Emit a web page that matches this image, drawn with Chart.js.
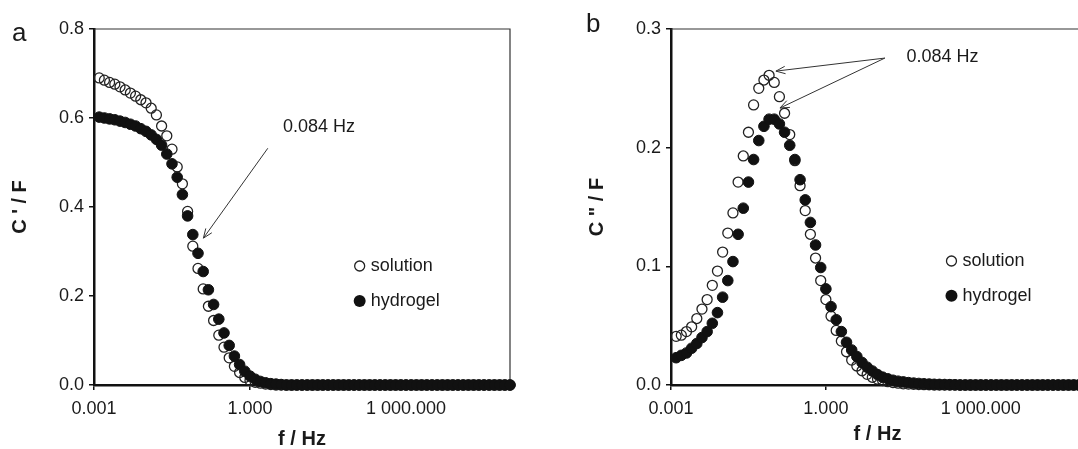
<!DOCTYPE html>
<html>
<head>
<meta charset="utf-8">
<script src="https://cdn.jsdelivr.net/npm/chart.js@4.4.1/dist/chart.umd.min.js"></script>
<style>
  html, body { margin: 0; padding: 0; background: #fff; overflow: hidden; width: 1078px; height: 449px; }
  canvas { position: absolute; top: 0; }
  #chartA { left: 0; }
  #chartB { left: 577px; }
</style>
</head>
<body>
<canvas id="chartA" width="540" height="449"></canvas>
<canvas id="chartB" width="537" height="449"></canvas>
<script>
// frequencies, 10 points per decade
const freqHz = [
  1.259e-3, 1.585e-3, 1.995e-3, 2.512e-3, 3.162e-3, 3.981e-3, 5.012e-3, 6.310e-3, 7.943e-3, 1e-2,
  1.259e-2, 1.585e-2, 1.995e-2, 2.512e-2, 3.162e-2, 3.981e-2, 5.012e-2, 6.310e-2, 7.943e-2, 1e-1,
  1.259e-1, 1.585e-1, 1.995e-1, 2.512e-1, 3.162e-1, 3.981e-1, 5.012e-1, 6.310e-1, 7.943e-1, 1,
  1.259, 1.585, 1.995, 2.512, 3.162, 3.981, 5.012, 6.310, 7.943, 10,
  12.59, 15.85, 19.95, 25.12, 31.62, 39.81, 50.12, 63.10, 79.43, 100,
  125.9, 158.5, 199.5, 251.2, 316.2, 398.1, 501.2, 631.0, 794.3, 1000,
  1259, 1585, 1995, 2512, 3162, 3981, 5012, 6310, 7943, 1e4,
  12590, 15850, 19950, 25120, 31620, 39810, 50120, 63100, 79430, 1e5
];

// panel a: C' (F)
const cReSolution = [
  0.690, 0.685, 0.680, 0.676, 0.670, 0.663, 0.656, 0.649, 0.641, 0.634,
  0.622, 0.607, 0.582, 0.560, 0.530, 0.490, 0.452, 0.390, 0.312, 0.262,
  0.216, 0.177, 0.145, 0.112, 0.085, 0.061, 0.042, 0.028, 0.017, 0.010,
  0.006, 0.004, 0.002, 0.001, 0, 0, 0, 0, 0, 0,
  0, 0, 0, 0, 0, 0, 0, 0, 0, 0,
  0, 0, 0, 0, 0, 0, 0, 0, 0, 0,
  0, 0, 0, 0, 0, 0, 0, 0, 0, 0,
  0, 0, 0, 0, 0, 0, 0, 0, 0, 0
];
const cReHydrogel = [
  0.602, 0.600, 0.598, 0.596, 0.593, 0.590, 0.586, 0.582, 0.576, 0.570,
  0.562, 0.552, 0.539, 0.519, 0.497, 0.467, 0.428, 0.380, 0.338, 0.296,
  0.255, 0.214, 0.181, 0.148, 0.117, 0.089, 0.065, 0.046, 0.031, 0.020,
  0.013, 0.008, 0.005, 0.003, 0.002, 0.001, 0, 0, 0, 0,
  0, 0, 0, 0, 0, 0, 0, 0, 0, 0,
  0, 0, 0, 0, 0, 0, 0, 0, 0, 0,
  0, 0, 0, 0, 0, 0, 0, 0, 0, 0,
  0, 0, 0, 0, 0, 0, 0, 0, 0, 0
];

// panel b: C'' (F)
const cImSolution = [
  0.041, 0.042, 0.045, 0.049, 0.056, 0.064, 0.072, 0.084, 0.096, 0.112,
  0.128, 0.145, 0.171, 0.193, 0.213, 0.236, 0.250, 0.257, 0.261, 0.255,
  0.243, 0.229, 0.211, 0.189, 0.168, 0.147, 0.127, 0.107, 0.088, 0.072,
  0.058, 0.046, 0.037, 0.028, 0.021, 0.016, 0.012, 0.009, 0.0065, 0.005,
  0.0037, 0.0028, 0.002, 0.0015, 0.001, 0.0008, 0.0006, 0.0004, 0.0003, 0.0002,
  0, 0, 0, 0, 0, 0, 0, 0, 0, 0,
  0, 0, 0, 0, 0, 0, 0, 0, 0, 0,
  0, 0, 0, 0, 0, 0, 0, 0, 0, 0
];
const cImHydrogel = [
  0.023, 0.025, 0.027, 0.031, 0.035, 0.040, 0.045, 0.052, 0.061, 0.074,
  0.088, 0.104, 0.127, 0.149, 0.171, 0.190, 0.206, 0.218, 0.224, 0.224,
  0.220, 0.213, 0.202, 0.190, 0.173, 0.156, 0.137, 0.118, 0.099, 0.081,
  0.066, 0.055, 0.045, 0.036, 0.0295, 0.024, 0.019, 0.015, 0.0118, 0.0088,
  0.0066, 0.0052, 0.004, 0.0032, 0.0026, 0.002, 0.0016, 0.0013, 0.001, 0.0008,
  0.0006, 0.0005, 0.0004, 0.0003, 0.0002, 0, 0, 0, 0, 0,
  0, 0, 0, 0, 0, 0, 0, 0, 0, 0,
  0, 0, 0, 0, 0, 0, 0, 0, 0, 0
];

const xTickValues = [0.001, 1, 1000];
const xTickLabels = ["0.001", "1.000", "1 000.000"];
const yTicksA = [0, 0.2, 0.4, 0.6, 0.8];
const yTicksB = [0, 0.1, 0.2, 0.3];

const FONT = '"Liberation Sans", Arial, sans-serif';
const INK = "#1a1a1a";

function drawArrow(ctx, x0, y0, x1, y1) {
  const ang = Math.atan2(y1 - y0, x1 - x0);
  const len = 10, spread = 0.38;
  ctx.beginPath();
  ctx.moveTo(x0, y0);
  ctx.lineTo(x1, y1);
  ctx.moveTo(x1 - len * Math.cos(ang - spread), y1 - len * Math.sin(ang - spread));
  ctx.lineTo(x1, y1);
  ctx.lineTo(x1 - len * Math.cos(ang + spread), y1 - len * Math.sin(ang + spread));
  ctx.stroke();
}

const panelDecor = {
  id: "panelDecor",
  beforeDatasetsDraw(chart) {
    const { ctx, chartArea: a } = chart;
    ctx.save();
    ctx.strokeStyle = "#333";
    ctx.lineWidth = 1.2;
    ctx.beginPath();
    ctx.moveTo(a.left, a.top);
    ctx.lineTo(a.right, a.top);
    ctx.lineTo(a.right, a.bottom);
    ctx.stroke();
    ctx.restore();
  },
  afterDraw(chart, args, opts) {
    const { ctx, chartArea: a, scales: { x, y } } = chart;
    ctx.save();
    ctx.fillStyle = INK;
    ctx.font = "26px " + FONT;
    ctx.textAlign = "left";
    ctx.textBaseline = "alphabetic";
    ctx.fillText(opts.letter, a.left + opts.letterDx, opts.letterY);

    // 0.084 Hz note
    ctx.font = "18px " + FONT;
    ctx.textBaseline = "middle";
    ctx.fillText(opts.note.text, x.getPixelForValue(opts.note.x), y.getPixelForValue(opts.note.y));
    ctx.strokeStyle = "#333";
    ctx.lineWidth = 1;
    opts.arrows.forEach((ar) => {
      drawArrow(ctx,
        x.getPixelForValue(ar.from[0]), y.getPixelForValue(ar.from[1]),
        x.getPixelForValue(ar.to[0]), y.getPixelForValue(ar.to[1]));
    });

    // legend inside plot
    const lx = x.getPixelForValue(opts.legend.x);
    opts.legend.items.forEach((it) => {
      const ly = y.getPixelForValue(it.y);
      ctx.beginPath();
      if (it.filled) {
        ctx.arc(lx, ly, 6, 0, Math.PI * 2);
        ctx.fillStyle = "#111";
        ctx.fill();
      } else {
        ctx.arc(lx, ly, 5, 0, Math.PI * 2);
        ctx.lineWidth = 1.3;
        ctx.strokeStyle = "#222";
        ctx.stroke();
      }
      ctx.fillStyle = INK;
      ctx.fillText(it.label, lx + 11, ly);
    });
    ctx.restore();
  },
};

function makePanel(canvasId, cfg) {
  const solution = freqHz.map((f, i) => ({ x: f, y: cfg.solution[i] }));
  const hydrogel = freqHz.map((f, i) => ({ x: f, y: cfg.hydrogel[i] }));

  return new Chart(document.getElementById(canvasId).getContext("2d"), {
    type: "scatter",
    data: {
      datasets: [
        {
          label: "hydrogel",
          data: hydrogel,
          pointRadius: 5.3,
          pointBackgroundColor: "#111",
          pointBorderColor: "#111",
          pointBorderWidth: 1,
          order: 0,
          clip: false,
        },
        {
          label: "solution",
          data: solution,
          pointRadius: 5,
          pointBackgroundColor: "rgba(0,0,0,0)",
          pointBorderColor: "#222",
          pointBorderWidth: 1.3,
          order: 1,
          clip: false,
        },
      ],
    },
    options: {
      responsive: false,
      animation: false,
      events: [],
      layout: { padding: { top: 29, right: 30, left: 0, bottom: 0 } },
      plugins: {
        legend: { display: false },
        tooltip: { enabled: false },
        panelDecor: cfg.decor,
      },
      scales: {
        x: {
          type: "logarithmic",
          min: 1e-3,
          max: 1e5,
          afterBuildTicks: (s) => { s.ticks = xTickValues.map((v) => ({ value: v })); },
          afterFit: (s) => { s.height = 64; },
          ticks: {
            autoSkip: false,
            maxRotation: 0,
            padding: 8,
            color: INK,
            font: { family: FONT, size: 18 },
            callback: (v, i) => xTickLabels[i],
          },
          grid: { drawOnChartArea: false, tickLength: 5, color: "#111", lineWidth: 1.5 },
          border: { color: "#111", width: 2.5 },
          title: {
            display: true,
            text: "f / Hz",
            color: INK,
            padding: { top: 0, bottom: cfg.xTitlePad },
            font: { family: FONT, size: 20, weight: "bold", lineHeight: 1 },
          },
        },
        y: {
          type: "linear",
          min: 0,
          max: cfg.yMax,
          afterBuildTicks: (s) => { s.ticks = cfg.yTicks.map((v) => ({ value: v })); },
          afterFit: (s) => { s.width = 94; },
          ticks: {
            padding: 5,
            color: INK,
            font: { family: FONT, size: 18 },
            callback: (v) => v.toFixed(1),
          },
          grid: { drawOnChartArea: false, tickLength: 5, color: "#111", lineWidth: 1.5 },
          border: { color: "#111", width: 2.5 },
          title: {
            display: true,
            text: cfg.yTitle,
            color: INK,
            padding: { top: 10, bottom: 0 },
            font: { family: FONT, size: 20, weight: "bold", lineHeight: 1 },
          },
        },
      },
    },
    plugins: [panelDecor],
  });
}

makePanel("chartA", {
  solution: cReSolution,
  hydrogel: cReHydrogel,
  yMax: 0.8,
  yTicks: yTicksA,
  yTitle: "C ' / F",
  xTitlePad: 0,
  decor: {
    letter: "a",
    letterDx: -82,
    letterY: 41,
    note: { text: "0.084 Hz", x: 4.3, y: 0.58 },
    arrows: [{ from: [2.2, 0.532], to: [0.127, 0.33] }],
    legend: {
      x: 128.5,
      items: [
        { label: "solution", filled: false, y: 0.2674 },
        { label: "hydrogel", filled: true, y: 0.189 },
      ],
    },
  },
});

makePanel("chartB", {
  solution: cImSolution,
  hydrogel: cImHydrogel,
  yMax: 0.3,
  yTicks: yTicksB,
  yTitle: 'C " / F',
  xTitlePad: 5,
  decor: {
    letter: "b",
    letterDx: -85,
    letterY: 32,
    note: { text: "0.084 Hz", x: 36.5, y: 0.2766 },
    arrows: [
      { from: [13.9, 0.2755], to: [0.1077, 0.2645] },
      { from: [13.9, 0.2755], to: [0.129, 0.2334] },
    ],
    legend: {
      x: 271,
      items: [
        { label: "solution", filled: false, y: 0.1045 },
        { label: "hydrogel", filled: true, y: 0.0752 },
      ],
    },
  },
});
</script>
</body>
</html>
